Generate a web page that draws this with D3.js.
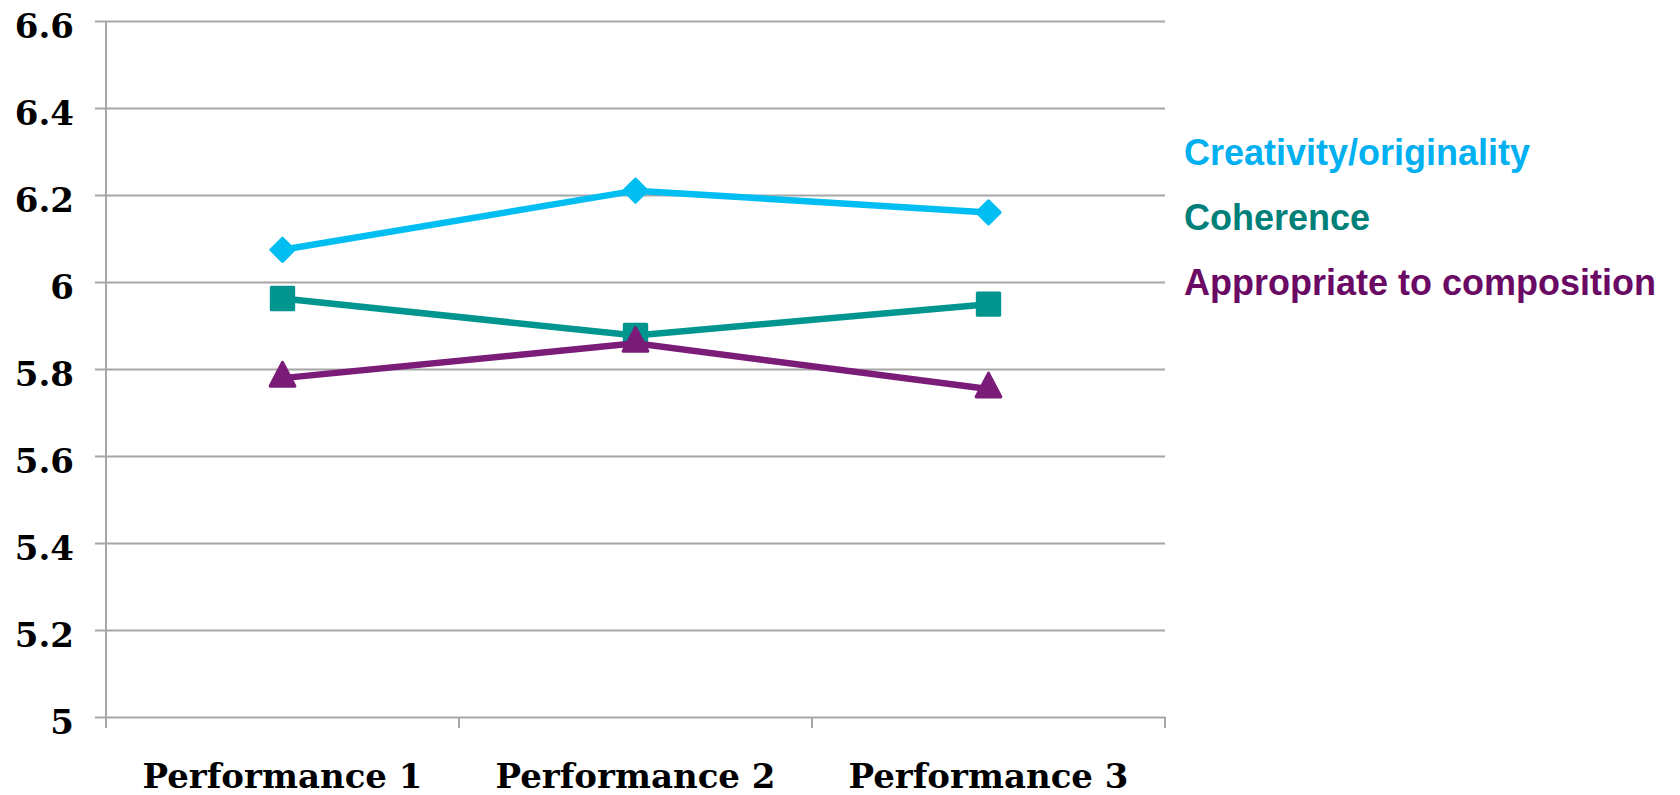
<!DOCTYPE html>
<html>
<head>
<meta charset="utf-8">
<script src="https://cdn.jsdelivr.net/npm/d3@7"></script>
<style>
  body { margin: 0; background: #fff; }
</style>
</head>
<body>
<div id="chart"></div>
<script>
  // data
  var categories = ["Performance 1", "Performance 2", "Performance 3"]
  var creativity = [6.074, 6.21, 6.16]
  var coherence = [5.962, 5.877, 5.949]
  var appropriate = [5.779, 5.859, 5.754]
  var yTicks = [5, 5.2, 5.4, 5.6, 5.8, 6, 6.2, 6.4, 6.6]
  var seriesNames = ["Creativity/originality", "Coherence", "Appropriate to composition"]

  var series = [
    { name: seriesNames[0], values: creativity, color: "#00bef2", text: "#00b0f0", shape: "diamond" },
    { name: seriesNames[1], values: coherence, color: "#00958f", text: "#008078", shape: "square" },
    { name: seriesNames[2], values: appropriate, color: "#7b1c79", text: "#6a0a64", shape: "triangle" }
  ]

  var W = 1680, H = 795
  var margin = { top: 21, right: 515, bottom: 78, left: 106 }
  var width = W - margin.left - margin.right,
    height = H - margin.top - margin.bottom

  var svg = d3.select("#chart").append("svg")
    .attr("width", W)
    .attr("height", H)
    .append("g")
    .attr("transform", "translate(" + margin.left + "," + margin.top + ")")

  var x = d3.scaleBand()
    .range([0, width])
    .domain(categories)

  var y = d3.scaleLinear()
    .range([height, 0])
    .domain([5, 6.6])

  var serif = "'DejaVu Serif', Georgia, serif"

  // horizontal gridlines + y labels
  var yAxis = d3.axisLeft(y)
    .tickValues(yTicks)
    .tickSize(-width)
    .tickFormat(function (d) { return d3.format("~g")(d) })
  var gy = svg.append("g").call(yAxis)
  gy.select(".domain").remove()
  gy.selectAll(".tick line")
    .attr("x1", -11)
    .attr("stroke", "#a6a6a6")
    .attr("stroke-width", 2)
  gy.selectAll(".tick text")
    .attr("x", -32)
    .attr("dy", "0.48em")
    .attr("font-family", serif)
    .attr("font-weight", "bold")
    .attr("font-size", "34px")
    .attr("fill", "#000")

  // vertical axis line
  svg.append("line")
    .attr("x1", 0).attr("x2", 0)
    .attr("y1", y(6.6)).attr("y2", height + 11)
    .attr("stroke", "#a6a6a6")
    .attr("stroke-width", 2)

  // category ticks at band edges
  var edges = categories.map(function (c) { return x(c) + x.bandwidth() })
  svg.selectAll(".xtick")
    .data(edges)
    .enter().append("line")
    .attr("x1", function (d) { return d }).attr("x2", function (d) { return d })
    .attr("y1", height).attr("y2", height + 11)
    .attr("stroke", "#a6a6a6")
    .attr("stroke-width", 2)

  var xAxis = d3.axisBottom(x).tickSize(0)
  var gx = svg.append("g")
    .attr("transform", "translate(0," + height + ")")
    .call(xAxis)
  gx.select(".domain").remove()
  gx.selectAll(".tick text")
    .attr("y", 71)
    .attr("dy", 0)
    .attr("font-family", serif)
    .attr("font-weight", "bold")
    .attr("font-size", "34px")
    .attr("fill", "#000")

  var cx = function (i) { return x(categories[i]) + x.bandwidth() / 2 }

  var line = d3.line()
    .x(function (d, i) { return cx(i) })
    .y(function (d) { return y(d) })

  var symbols = {
    diamond: d3.symbol().type(d3.symbolSquare).size(270),
    square: d3.symbol().type(d3.symbolSquare).size(500),
    triangle: d3.symbol().type(d3.symbolTriangle).size(265)
  }

  series.forEach(function (s) {
    var g = svg.append("g")
    g.append("path")
      .datum(s.values)
      .attr("fill", "none")
      .attr("stroke", s.color)
      .attr("stroke-width", 6.5)
      .attr("d", line)

    g.selectAll("path.mark")
      .data(s.values)
      .enter().append("path")
      .attr("class", "mark")
      .attr("d", symbols[s.shape]())
      .attr("fill", s.color)
      .attr("stroke", s.color)
      .attr("stroke-width", 3)
      .attr("stroke-linejoin", "round")
      .attr("transform", function (d, i) {
        var t = "translate(" + cx(i) + "," + y(d) + ")"
        if (s.shape == "diamond") t += " rotate(45)"
        if (s.shape == "triangle") t += " scale(1,1.1)"
        return t
      })
  })

  // legend (text only)
  svg.selectAll(".legend")
    .data(series)
    .enter().append("text")
    .attr("class", "legend")
    .attr("x", 1184 - margin.left)
    .attr("y", function (d, i) { return 165 - margin.top + i * 65 })
    .attr("font-family", "'Liberation Sans', Arial, sans-serif")
    .attr("font-weight", "bold")
    .attr("font-size", "36px")
    .attr("fill", function (d) { return d.text })
    .text(function (d) { return d.name })
</script>
</body>
</html>
